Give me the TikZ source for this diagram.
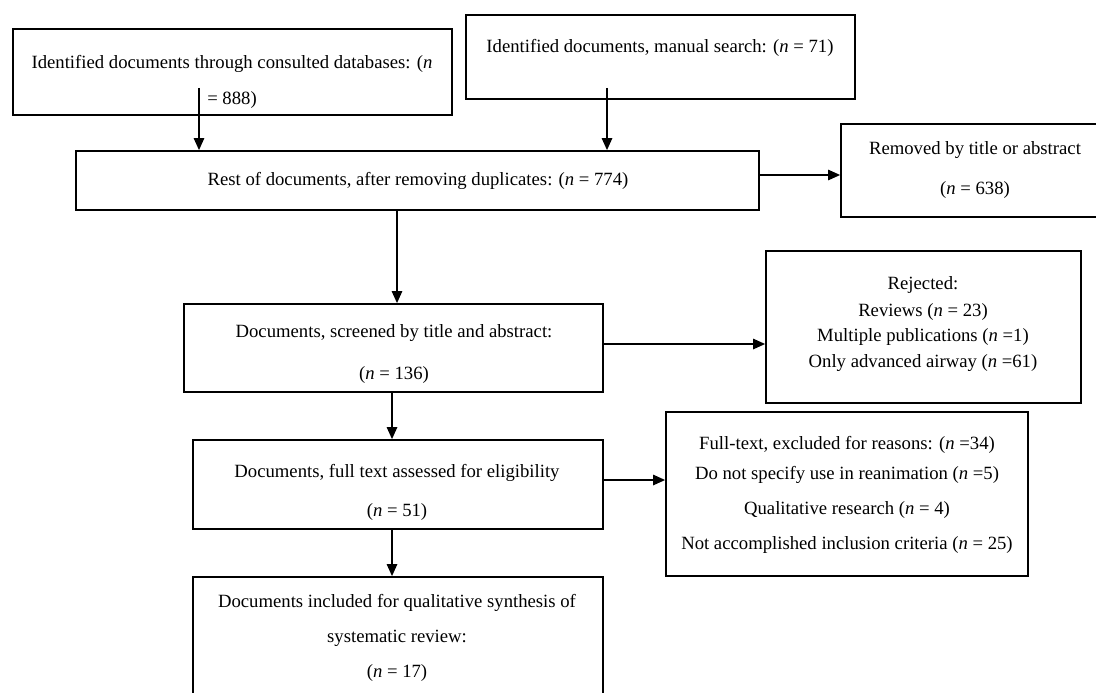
\documentclass[tikz,border=0pt]{standalone}
\usepackage{fontspec}
\setmainfont{Liberation Serif}
\usetikzlibrary{arrows.meta,fit}
\begin{document}
\begin{tikzpicture}[x=1pt,y=-1pt,
  box/.style={draw, line width=1.8pt, inner sep=0pt},
  txt/.style={font=\fontsize{18.7}{22}\selectfont, inner sep=0pt, text height=13pt, text depth=4pt, anchor=center},
  arr/.style={line width=1.3pt, -{Triangle[length=12pt,width=10.5pt]}}]
\useasboundingbox (0,0) rectangle (1096,693);
\fill[white] (0,0) rectangle (1096,693);
% boxes
\node[box, fit={(13,29) (452,115)}] (b1) {};
\node[box, fit={(466,15) (855,99)}] (b2) {};
\node[box, fit={(76,151) (759,210)}] (b3) {};
\node[box, fit={(841,124) (1109,217)}] (b4) {};
\node[box, fit={(766,251) (1081,403)}] (b5) {};
\node[box, fit={(184,304) (603,392)}] (b6) {};
\node[box, fit={(666,412) (1028,576)}] (b7) {};
\node[box, fit={(193,440) (603,529)}] (b8) {};
\node[box, fit={(193,577) (603,705)}] (b9) {};
% texts
\node[txt] (t1a) at (232,64) {Identified documents through consulted databases: (\textit{n}};
\node[txt] (t1b) at (232,100) {= 888)};
\node[txt] (t2) at (660,48) {Identified documents, manual search: (\textit{n} = 71)};
\node[txt] (t3) at (418,181) {Rest of documents, after removing duplicates: (\textit{n} = 774)};
\node[txt] (t4a) at (975,150) {Removed by title or abstract};
\node[txt] (t4b) at (975,190) {(\textit{n} = 638)};
\node[txt] (t5a) at (923,285) {Rejected:};
\node[txt] (t5b) at (923,312) {Reviews (\textit{n} = 23)};
\node[txt] (t5c) at (923,337) {Multiple publications (\textit{n} =1)};
\node[txt] (t5d) at (923,363) {Only advanced airway (\textit{n} =61)};
\node[txt] (t6a) at (394,333) {Documents, screened by title and abstract:};
\node[txt] (t6b) at (394,375) {(\textit{n} = 136)};
\node[txt] (t7a) at (847,445) {Full-text, excluded for reasons: (\textit{n} =34)};
\node[txt] (t7b) at (847,475) {Do not specify use in reanimation (\textit{n} =5)};
\node[txt] (t7c) at (847,510) {Qualitative research (\textit{n} = 4)};
\node[txt] (t7d) at (847,545) {Not accomplished inclusion criteria (\textit{n} = 25)};
\node[txt] (t8a) at (397,473) {Documents, full text assessed for eligibility};
\node[txt] (t8b) at (397,512) {(\textit{n} = 51)};
\node[txt] (t9a) at (397,603) {Documents included for qualitative synthesis of};
\node[txt] (t9b) at (397,638) {systematic review:};
\node[txt] (t9c) at (397,673) {(\textit{n} = 17)};
% connectors
\coordinate (s1) at (199,88);
\coordinate (s2) at (607,88);
\coordinate (s3) at (759,175);
\coordinate (s4) at (397,210);
\coordinate (s5) at (603,344);
\coordinate (s6) at (392,392);
\coordinate (s7) at (603,480);
\coordinate (s8) at (392,529);
\draw[arr] (s1) -- (s1 |- b3.north);
\draw[arr] (s2) -- (s2 |- b3.north);
\draw[arr] (s3) -- (s3 -| b4.west);
\draw[arr] (s4) -- (s4 |- b6.north);
\draw[arr] (s5) -- (s5 -| b5.west);
\draw[arr] (s6) -- (s6 |- b8.north);
\draw[arr] (s7) -- (s7 -| b7.west);
\draw[arr] (s8) -- (s8 |- b9.north);
\end{tikzpicture}
\end{document}
